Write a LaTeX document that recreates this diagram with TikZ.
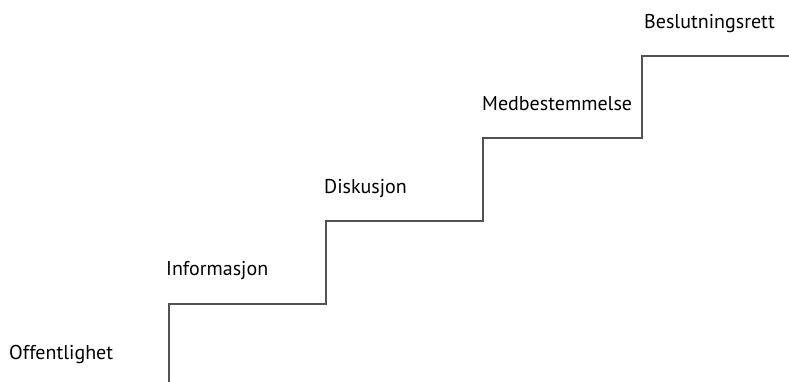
\documentclass[tikz,border=0pt]{standalone}
\usepackage{fontspec}
\setmainfont{PT Sans}
\begin{document}
\begin{tikzpicture}[x=1pt,y=-1pt,
  stair/.style={draw=black!68, line width=2pt, line join=miter},
  lbl/.style={anchor=west, inner sep=0pt, text=black, font=\fontsize{20}{24}\selectfont}]
\useasboundingbox (0,0) rectangle (789,381);
% step corners
\coordinate (s0) at (169,382);
\coordinate (s1) at (169,304);
\coordinate (s2) at (326,304);
\coordinate (s3) at (326,221);
\coordinate (s4) at (483,221);
\coordinate (s5) at (483,138);
\coordinate (s6) at (642,138);
\coordinate (s7) at (642,56);
\coordinate (s8) at (790,56);
\draw[stair] (s0) -- (s1) -- (s2) -- (s3) -- (s4) -- (s5) -- (s6) -- (s7) -- (s8);
% step labels
\node[lbl] (l0) at (9,354) {Offentlighet};
\node[lbl] (l1) at (166,271) {Informasjon};
\node[lbl] (l2) at (324,189) {Diskusjon};
\node[lbl] (l3) at (482,104) {Medbestemmelse};
\node[lbl] (l4) at (644,24) {Beslutningsrett};
\end{tikzpicture}
\end{document}
